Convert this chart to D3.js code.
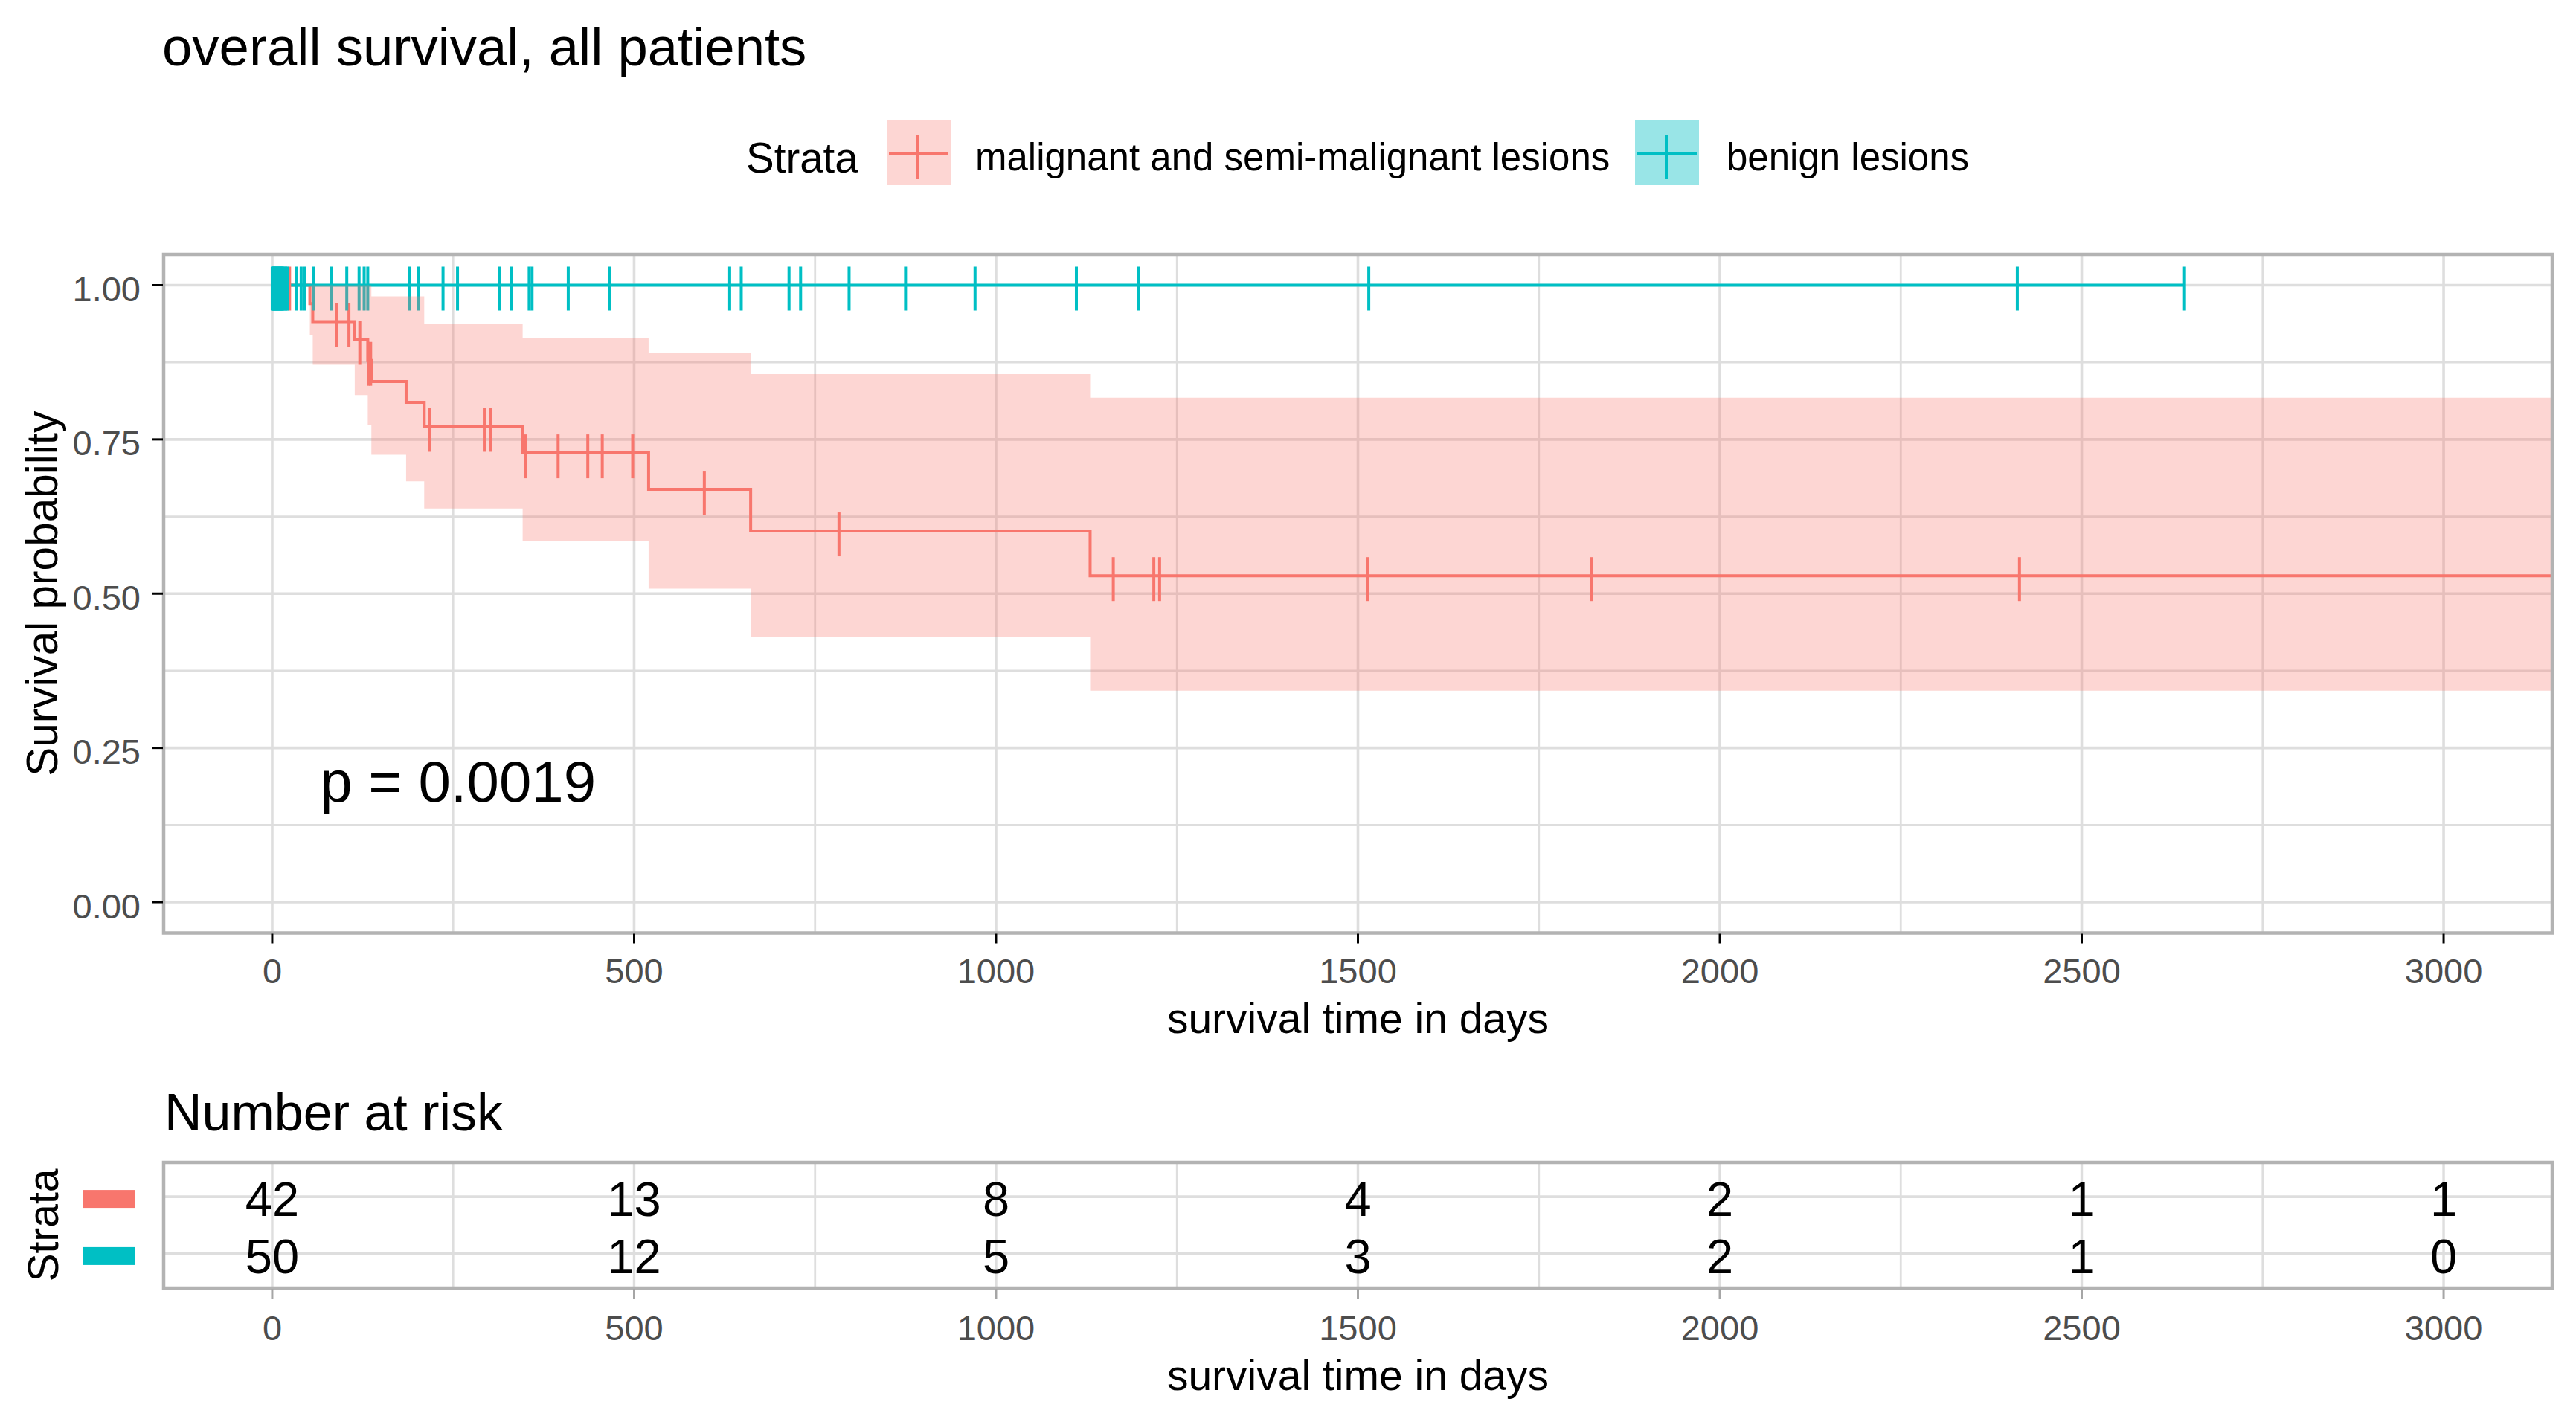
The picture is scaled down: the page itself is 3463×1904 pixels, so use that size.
<!DOCTYPE html>
<html><head><meta charset="utf-8">
<script src="https://cdn.jsdelivr.net/npm/d3@7"></script>
<style>
body{margin:0;background:#fff}
svg{display:block}
text{font-family:"Liberation Sans",Arial,Helvetica,sans-serif}
</style>
</head><body>
<svg id="c" width="3463" height="1904"></svg>
<script>
// ---------------- data ----------------
const strata = ["malignant and semi-malignant lesions", "benign lesions"];
const strataColors = ["#F8766D", "#00BFC4"];

// malignant / semi-malignant: KM steps
const redTimes = [0, 52, 56, 114, 132, 137, 185, 210, 346, 520, 661, 1130, 3150];
const redSurv  = [1, 0.970, 0.941, 0.912, 0.878, 0.844, 0.810, 0.771, 0.728, 0.669, 0.6015, 0.529, 0.529];
const redUpper = [1, 1, 1, 1, 1, 0.982, 0.982, 0.938, 0.914, 0.890, 0.856, 0.8176, 0.8176];
const redLower = [1, 0.919, 0.871, 0.822, 0.774, 0.725, 0.682, 0.638, 0.585, 0.508, 0.4294, 0.3427, 0.3427];
const redCensor = [24, 89, 106, 121, 133, 136, 217, 293, 302, 350, 395, 436, 456, 498, 597, 783, 1162, 1218, 1226, 1513, 1823, 2414];

// benign: no events
const cyanTimes = [0, 2642];
const cyanSurv  = [1, 1];
const cyanCensor = [0,1,2,3,4,5,6,7,8,9,10,11,12,13,14,15,17,19,21,
  33,40,45,57,82,103,120,127,132,190,202,236,256,314,330,355,359,409,466,
  632,648,714,730,797,875,971,1111,1197,1515,2411,2642];

const xTicks = [0, 500, 1000, 1500, 2000, 2500, 3000];
const xMinor = [250, 750, 1250, 1750, 2250, 2750];
const yTicks = [0, 0.25, 0.5, 0.75, 1];
const yMinor = [0.125, 0.375, 0.625, 0.875];

const riskTimes = [0, 500, 1000, 1500, 2000, 2500, 3000];
const riskRed   = [42, 13, 8, 4, 2, 1, 1];
const riskCyan  = [50, 12, 5, 3, 2, 1, 0];

const pValue = "p = 0.0019";

// ---------------- layout ----------------
const svg = d3.select("#c");
const P = {l: 220, r: 3431, t: 342, b: 1254.5};
const x = d3.scaleLinear().domain([-150, 3150]).range([P.l, P.r]);
const y = d3.scaleLinear().domain([-0.05, 1.05]).range([P.b, P.t]);
const GRID = "#dedede", BORDER = "#b3b3b3", TXT = "#4d4d4d";
const LW = 4;

svg.append("rect").attr("width", 3463).attr("height", 1904).attr("fill", "#fff");

// title
svg.append("text").attr("x", 218).attr("y", 88).attr("font-size", 72.5).attr("fill", "#000")
  .text("overall survival, all patients");

// legend
svg.append("text").attr("x", 1003).attr("y", 232).attr("font-size", 56.5).attr("fill", "#000").text("Strata");
const legendKeys = [{x: 1192, lx: 1311}, {x: 2198, lx: 2321}];
const keyFill = ["rgba(248,118,109,0.3)", "rgba(0,191,196,0.4)"];
legendKeys.forEach((k, i) => {
  svg.append("rect").attr("x", k.x).attr("y", 161).attr("width", 86).attr("height", 88).attr("fill", keyFill[i]);
  svg.append("line").attr("x1", k.x + 3).attr("x2", k.x + 83).attr("y1", 207).attr("y2", 207)
    .attr("stroke", strataColors[i]).attr("stroke-width", LW);
  svg.append("line").attr("x1", k.x + 42).attr("x2", k.x + 42).attr("y1", 181).attr("y2", 241)
    .attr("stroke", strataColors[i]).attr("stroke-width", LW);
  svg.append("text").attr("x", k.lx).attr("y", 229).attr("font-size", 51).attr("fill", "#000").text(strata[i]);
});

// ---------------- main panel ----------------
const defs = svg.append("defs");
defs.append("clipPath").attr("id", "clipMain").append("rect")
  .attr("x", P.l).attr("y", P.t).attr("width", P.r - P.l).attr("height", P.b - P.t);

const g = svg.append("g");
g.selectAll(".gxm").data(xMinor).join("line")
  .attr("x1", d => x(d)).attr("x2", d => x(d)).attr("y1", P.t).attr("y2", P.b)
  .attr("stroke", GRID).attr("stroke-width", 2.8);
g.selectAll(".gym").data(yMinor).join("line")
  .attr("y1", d => y(d)).attr("y2", d => y(d)).attr("x1", P.l).attr("x2", P.r)
  .attr("stroke", GRID).attr("stroke-width", 2.8);
g.selectAll(".gx").data(xTicks).join("line")
  .attr("x1", d => x(d)).attr("x2", d => x(d)).attr("y1", P.t).attr("y2", P.b)
  .attr("stroke", GRID).attr("stroke-width", 3.6);
g.selectAll(".gy").data(yTicks).join("line")
  .attr("y1", d => y(d)).attr("y2", d => y(d)).attr("x1", P.l).attr("x2", P.r)
  .attr("stroke", GRID).attr("stroke-width", 3.6);

const plot = svg.append("g").attr("clip-path", "url(#clipMain)");
const redData = redTimes.map((t, i) => ({t, s: redSurv[i], u: redUpper[i], lo: redLower[i]}));
const cyanData = cyanTimes.map((t, i) => ({t, s: cyanSurv[i]}));
const stepLine = d3.line().curve(d3.curveStepAfter).x(d => x(d.t)).y(d => y(d.s));

plot.append("path").attr("d", stepLine(redData)).attr("fill", "none")
  .attr("stroke", strataColors[0]).attr("stroke-width", LW);
plot.append("path").attr("d", stepLine(cyanData)).attr("fill", "none")
  .attr("stroke", strataColors[1]).attr("stroke-width", LW);

function survAt(times, surv, t) {
  const i = d3.bisectRight(times, t) - 1;
  return surv[Math.max(0, i)];
}
function drawCensor(list, times, surv, col) {
  plot.selectAll(null).data(list).join("line")
    .attr("x1", d => x(d)).attr("x2", d => x(d))
    .attr("y1", d => y(survAt(times, surv, d)) - 25)
    .attr("y2", d => y(survAt(times, surv, d)) + 34)
    .attr("stroke", col).attr("stroke-width", 4);
}
drawCensor(redCensor, redTimes, redSurv, strataColors[0]);
drawCensor(cyanCensor, cyanTimes, cyanSurv, strataColors[1]);

const ribbon = d3.area().curve(d3.curveStepAfter).x(d => x(d.t)).y0(d => y(d.lo)).y1(d => y(d.u));
plot.append("path").attr("d", ribbon(redData)).attr("fill", strataColors[0]).attr("fill-opacity", 0.3);

// border
svg.append("rect").attr("x", P.l).attr("y", P.t).attr("width", P.r - P.l).attr("height", P.b - P.t)
  .attr("fill", "none").attr("stroke", BORDER).attr("stroke-width", 4.5);

// axes
svg.selectAll(".xt").data(xTicks).join("line")
  .attr("x1", d => x(d)).attr("x2", d => x(d)).attr("y1", P.b + 1).attr("y2", P.b + 14)
  .attr("stroke", "#000").attr("stroke-width", 3);
svg.selectAll(".xl").data(xTicks).join("text")
  .attr("x", d => x(d)).attr("y", P.b + 67.5).attr("text-anchor", "middle")
  .attr("font-size", 47).attr("fill", TXT).text(d => d);
svg.selectAll(".yt").data(yTicks).join("line")
  .attr("x1", P.l - 16).attr("x2", P.l - 1).attr("y1", d => y(d)).attr("y2", d => y(d))
  .attr("stroke", "#000").attr("stroke-width", 3);
svg.selectAll(".yl").data(yTicks).join("text")
  .attr("x", 189).attr("y", d => y(d) + 21.5).attr("text-anchor", "end")
  .attr("font-size", 47).attr("fill", TXT).text(d => d.toFixed(2));

svg.append("text").attr("x", (P.l + P.r) / 2).attr("y", 1389).attr("text-anchor", "middle")
  .attr("font-size", 57).attr("fill", "#000").text("survival time in days");
svg.append("text").attr("transform", `translate(77,${(P.t + P.b) / 2}) rotate(-90)`)
  .attr("text-anchor", "middle").attr("font-size", 58.5).attr("fill", "#000").text("Survival probability");

// p-value
svg.append("text").attr("x", x(66)).attr("y", y(0.2) + 31).attr("font-size", 78).attr("fill", "#000").text(pValue);

// ---------------- risk table ----------------
const R = {t: 1563, b: 1732};
const yr = d3.scaleLinear().domain([0.4, 2.6]).range([R.b, R.t]);
svg.append("text").attr("x", 221).attr("y", 1520).attr("font-size", 70).attr("fill", "#000").text("Number at risk");

const rg = svg.append("g");
rg.selectAll(null).data(xMinor).join("line")
  .attr("x1", d => x(d)).attr("x2", d => x(d)).attr("y1", R.t).attr("y2", R.b)
  .attr("stroke", GRID).attr("stroke-width", 2.8);
rg.selectAll(null).data(xTicks).join("line")
  .attr("x1", d => x(d)).attr("x2", d => x(d)).attr("y1", R.t).attr("y2", R.b)
  .attr("stroke", GRID).attr("stroke-width", 3.4);
rg.selectAll(null).data([2, 1]).join("line")
  .attr("x1", P.l).attr("x2", P.r).attr("y1", d => yr(d)).attr("y2", d => yr(d))
  .attr("stroke", GRID).attr("stroke-width", 3.6);

const rows = [{v: 2, vals: riskRed, c: strataColors[0]}, {v: 1, vals: riskCyan, c: strataColors[1]}];
rows.forEach(r => {
  rg.selectAll(null).data(riskTimes).join("text")
    .attr("x", d => x(d)).attr("y", yr(r.v) + 26).attr("text-anchor", "middle")
    .attr("font-size", 65).attr("fill", "#000").text((d, i) => r.vals[i]);
  svg.append("rect").attr("x", 111).attr("y", yr(r.v) - 9).attr("width", 71).attr("height", 24).attr("fill", r.c);
});

svg.append("rect").attr("x", P.l).attr("y", R.t).attr("width", P.r - P.l).attr("height", R.b - R.t)
  .attr("fill", "none").attr("stroke", BORDER).attr("stroke-width", 4.5);

svg.selectAll(".rxt").data(xTicks).join("line")
  .attr("x1", d => x(d)).attr("x2", d => x(d)).attr("y1", R.b + 1).attr("y2", R.b + 15)
  .attr("stroke", "#a6a6a6").attr("stroke-width", 3);
svg.selectAll(".rxl").data(xTicks).join("text")
  .attr("x", d => x(d)).attr("y", 1802).attr("text-anchor", "middle")
  .attr("font-size", 47).attr("fill", TXT).text(d => d);
svg.append("text").attr("x", (P.l + P.r) / 2).attr("y", 1869).attr("text-anchor", "middle")
  .attr("font-size", 57).attr("fill", "#000").text("survival time in days");
svg.append("text").attr("transform", `translate(78,${(R.t + R.b) / 2}) rotate(-90)`)
  .attr("text-anchor", "middle").attr("font-size", 57).attr("fill", "#000").text("Strata");
</script>
</body></html>
